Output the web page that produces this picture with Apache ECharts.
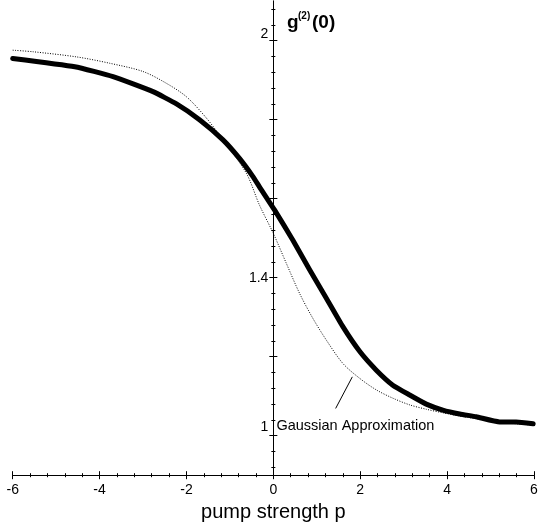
<!DOCTYPE html>
<html>
<head>
<meta charset="utf-8">
<script src="https://cdn.jsdelivr.net/npm/echarts@6/dist/echarts.min.js"></script>
<style>html,body{margin:0;padding:0;background:#fff}#c{width:539px;height:525px}</style>
</head>
<body>
<div id="c"></div>
<script>
// pump strength p (x) and g2(0) values
const thickX = [-6.0,-4.57,-3.69,-2.77,-2.23,-1.70,-1.16,-0.78,-0.47,-0.32,0.03,0.45,0.835,1.22,1.60,1.99,2.37,2.75,3.14,3.52,3.90,4.29,4.67,5.21,5.59,5.98];
const thickY = [1.955,1.934,1.909,1.871,1.840,1.800,1.749,1.702,1.656,1.630,1.571,1.495,1.420,1.348,1.276,1.213,1.166,1.128,1.103,1.080,1.065,1.055,1.048,1.035,1.035,1.030];
const gaussX = [-6.0,-5.53,-4.53,-3.77,-3.00,-2.46,-2.00,-1.54,-1.16,-0.62,-0.32,0.0,0.30,0.605,0.91,1.22,1.60,1.99,2.37,2.75,3.14,3.52,3.90,4.29,4.67,5.21,5.59,5.98];
const gaussY = [1.976,1.972,1.959,1.943,1.922,1.892,1.858,1.804,1.749,1.664,1.584,1.512,1.436,1.360,1.297,1.242,1.183,1.145,1.116,1.095,1.078,1.067,1.058,1.050,1.043,1.034,1.030,1.027];
const yMajorTicks = [1.0,1.2,1.4,1.6,1.8,2.0];
const yMinorTicks = [0.92,0.96,1.04,1.08,1.12,1.16,1.24,1.28,1.32,1.36,1.44,1.48,1.52,1.56,1.64,1.68,1.72,1.76,1.84,1.88,1.92,1.96,2.04,2.08];
const yLabelValues = [1, 1.4, 2];
const xLabel = 'pump strength p';
const annotation = 'Gaussian Approximation';

const zip = (xs, ys) => xs.map((x, i) => [x, ys[i]]);
const FONT = 'Liberation Sans, Arial, sans-serif';

const X_MIN = -6, X_MAX = 6, Y_MIN = 0.9, Y_MAX = 2.1;
const G = { left: 12.7, right: 5, top: 1.2, bottom: 49.8 };
const W = 539 - G.left - G.right;
const zeroPx = G.left + (0 - X_MIN) / (X_MAX - X_MIN) * W; // where the vertical axis sits (p = 0)

function yAxisBase(extra) {
  return Object.assign({
    type: 'value', min: Y_MIN, max: Y_MAX, position: 'left', gridIndex: 1,
    axisLine: { show: true, onZero: false, lineStyle: { color: '#000', width: 1 } },
    splitLine: { show: false },
    axisLabel: { show: false },
    axisTick: { show: false }
  }, extra);
}
function xAxisBase(extra) {
  return Object.assign({
    type: 'value', min: X_MIN, max: X_MAX, interval: 2, position: 'bottom', gridIndex: 0,
    axisLine: { show: true, onZero: false, lineStyle: { color: '#000', width: 1 } },
    splitLine: { show: false },
    axisLabel: { show: false },
    axisTick: { show: false }
  }, extra);
}

const chart = echarts.init(document.getElementById('c'));
chart.setOption({
  animation: false,
  backgroundColor: '#fff',
  grid: [
    { left: G.left, right: G.right, top: G.top, bottom: G.bottom, containLabel: false, outerBoundsMode: 'none' },
    { left: zeroPx, right: G.right, top: G.top, bottom: G.bottom, containLabel: false, outerBoundsMode: 'none' }
  ],
  xAxis: [
    xAxisBase({
      axisTick: { show: true, length: 4, lineStyle: { color: '#000' } },
      minorTick: { show: true, splitNumber: 5, length: 2, lineStyle: { color: '#000' } },
      axisLabel: { show: true, fontSize: 14, fontFamily: FONT, color: '#000', margin: 8 },
      name: xLabel, nameLocation: 'middle', nameGap: 20,
      nameTextStyle: { fontSize: 20, fontFamily: FONT, color: '#000' }
    }),
    xAxisBase({
      axisTick: { show: true, inside: true, length: 4, lineStyle: { color: '#000' } },
      minorTick: { show: true, splitNumber: 5, length: 2, lineStyle: { color: '#000' } }
    }),
    { type: 'value', gridIndex: 1, min: 0, max: 1, show: false }
  ],
  yAxis: [
    { type: 'value', gridIndex: 0, min: Y_MIN, max: Y_MAX, show: false },
    yAxisBase({
      axisTick: { show: true, length: 4, customValues: yMajorTicks, lineStyle: { color: '#000' } },
      axisLabel: {
        show: true, customValues: yLabelValues, fontSize: 14, fontFamily: FONT, color: '#000', margin: 5,
        formatter: v => (Math.abs(v - 2) < 1e-6 ? '{u|2}' : Math.abs(v - 1) < 1e-6 ? '{w|1}' : '1.4'),
        rich: {
          u: { fontSize: 14, fontFamily: FONT, color: '#000', padding: [0, 0, 14, 0] },
          w: { fontSize: 14, fontFamily: FONT, color: '#000', padding: [0, 0, 18, 0] }
        }
      }
    }),
    yAxisBase({ axisTick: { show: true, inside: true, length: 4, customValues: yMajorTicks, lineStyle: { color: '#000' } } }),
    yAxisBase({ axisTick: { show: true, length: 2, customValues: yMinorTicks, lineStyle: { color: '#000' } } }),
    yAxisBase({ axisTick: { show: true, inside: true, length: 2, customValues: yMinorTicks, lineStyle: { color: '#000' } } })
  ],
  series: [
    {
      name: 'g2', type: 'line', xAxisIndex: 0, yAxisIndex: 0, data: zip(thickX, thickY),
      showSymbol: false, symbol: 'none', smooth: 0.15,
      lineStyle: { color: '#000', width: 5, join: 'round', cap: 'round' }, z: 3
    },
    {
      name: 'gauss', type: 'line', xAxisIndex: 0, yAxisIndex: 0, data: zip(gaussX, gaussY),
      showSymbol: false, symbol: 'none', smooth: 0.3,
      lineStyle: { color: '#000', width: 1, type: [1, 1.5] }, z: 2,
      markLine: {
        silent: true, symbol: 'none', animation: false,
        lineStyle: { color: '#000', width: 1, type: 'solid' },
        label: { show: false },
        data: [[{ coord: [1.434, 1.069] }, { coord: [1.818, 1.149] }]]
      },
      markPoint: {
        silent: true, symbol: 'circle', symbolSize: 0,
        data: [{ coord: [0.07, 1.0245] }],
        label: { show: true, position: 'right', distance: 0, formatter: annotation, fontSize: 14.5, fontFamily: FONT, color: '#000' }
      }
    }
  ],
  graphic: [
    { type: 'text', left: 287, top: 13, style: { text: 'g', font: 'bold 19px ' + FONT, fill: '#000' } },
    { type: 'text', left: 298, top: 11, style: { text: '(2)', font: 'bold 10px ' + FONT, fill: '#000' } },
    { type: 'text', left: 312, top: 13, style: { text: '(0)', font: 'bold 19px ' + FONT, fill: '#000' } }
  ]
});
</script>
</body>
</html>
